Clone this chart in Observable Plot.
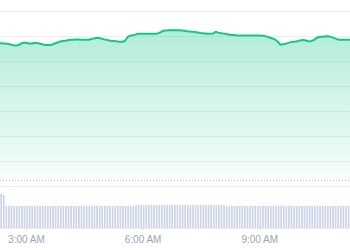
<!DOCTYPE html>
<html>
<head>
<meta charset="utf-8">
<script src="https://cdn.jsdelivr.net/npm/d3@7"></script>
<script src="https://cdn.jsdelivr.net/npm/@observablehq/plot@0.6"></script>
<style>
  html, body { margin: 0; padding: 0; background: #fff; overflow: hidden; }
  #chart svg { display: block; }
</style>
</head>
<body>
<div id="chart"></div>
<script>
// ---- data ----
const startTime = new Date(2024, 0, 15, 2, 20);
const stepMinutes = 4;
const prices = [
  2643.3, 2643.1, 2642.9, 2642.5, 2641.9, 2641.3, 2641.1, 2641.6, 2643.0, 2643.9,
  2643.5, 2643.0, 2642.9, 2643.4, 2643.6, 2643.0, 2642.2, 2641.6, 2641.4, 2641.5,
  2642.0, 2643.0, 2644.0, 2645.1, 2645.5, 2645.7, 2646.2, 2646.7, 2646.8, 2646.9,
  2647.0, 2646.8, 2646.7, 2646.7, 2646.7, 2647.4, 2648.0, 2648.4, 2648.6, 2647.8,
  2647.1, 2646.4, 2645.9, 2645.6, 2645.4, 2645.1, 2644.8, 2644.7, 2645.5, 2649.3,
  2650.8, 2651.2, 2651.9, 2652.7, 2652.7, 2652.7, 2652.7, 2652.7, 2652.7, 2652.7,
  2652.7, 2653.3, 2654.6, 2656.0, 2656.1, 2656.2, 2656.3, 2656.3, 2656.3, 2656.2,
  2656.0, 2655.7, 2655.3, 2655.0, 2654.7, 2654.4, 2654.0, 2653.6, 2653.3, 2653.0,
  2652.7, 2652.7, 2653.0, 2654.7, 2653.9, 2653.2, 2652.9, 2652.6, 2652.1, 2651.6,
  2651.4, 2651.1, 2651.0, 2651.0, 2651.0, 2651.0, 2651.0, 2651.0, 2651.0, 2651.0,
  2650.9, 2650.8, 2650.4, 2649.6, 2648.8, 2648.0, 2646.8, 2644.8, 2641.7, 2642.2,
  2642.8, 2643.6, 2644.4, 2644.7, 2645.1, 2645.6, 2646.2, 2646.6, 2645.7, 2645.1,
  2645.6, 2646.6, 2648.7, 2649.5, 2649.8, 2650.1, 2650.2, 2649.9, 2649.1, 2648.1,
  2647.1, 2646.7, 2646.7, 2646.7, 2646.7, 2646.7
];
const volumes = [
  3.4, 3.3, 2.2, 2.2, 2.2, 2.2, 2.2, 2.2, 2.2, 2.2,
  2.2, 2.2, 2.2, 2.2, 2.2, 2.2, 2.2, 2.2, 2.2, 2.2,
  2.2, 2.2, 2.2, 2.2, 2.2, 2.2, 2.2, 2.2, 2.2, 2.2,
  2.2, 2.2, 2.2, 2.2, 2.2, 2.2, 2.2, 2.2, 2.2, 2.2,
  2.2, 2.2, 2.2, 2.2, 2.2, 2.2, 2.2, 2.2, 2.2, 2.2,
  2.2, 2.2, 2.3, 2.3, 2.3, 2.3, 2.3, 2.3, 2.3, 2.3,
  2.3, 2.3, 2.3, 2.3, 2.3, 2.3, 2.3, 2.3, 2.3, 2.3,
  2.3, 2.3, 2.3, 2.3, 2.3, 2.3, 2.3, 2.3, 2.3, 2.3,
  2.3, 2.3, 2.3, 2.3, 2.3, 2.3, 2.3, 2.2, 2.2, 2.2,
  2.2, 2.2, 2.2, 2.2, 2.2, 2.2, 2.2, 2.2, 2.2, 2.2,
  2.2, 2.2, 2.2, 2.2, 2.2, 2.2, 2.2, 2.2, 2.2, 2.2,
  2.2, 2.2, 2.2, 2.2, 2.2, 2.2, 2.2, 2.2, 2.2, 2.2,
  2.2, 2.2, 2.2, 2.2, 2.2, 2.2, 2.2, 2.2, 2.2, 2.2,
  2.2, 2.2, 2.2, 2.2, 2.2, 2.2
];
const gridTicks = [2500, 2525, 2550, 2575, 2600, 2625, 2650, 2675];
const areaBaseline = 2506;
const volumeMax = 3.4;
const tickHours = [3, 6, 9];

// ---- build table ----
const MIN = 60 * 1000;
const rows = prices.map((p, i) => ({
  t: new Date(startTime.getTime() + i * stepMinutes * MIN),
  t2: new Date(startTime.getTime() + (i + 1) * stepMinutes * MIN),
  price: p,
  volume: volumes[i]
}));
const endTime = rows[rows.length - 1].t;
const xDomain = [startTime, endTime];
const tickValues = tickHours.map(h => new Date(2024, 0, 15, h, 0));
const fmt = d3.timeFormat("%-I:%M %p");

const green = "#16c784";

const priceChart = Plot.plot({
  width: 350,
  height: 190,
  marginTop: 11,
  marginBottom: 4,
  marginLeft: 0,
  marginRight: 0,
  x: { type: "time", domain: xDomain, axis: null },
  y: { domain: [gridTicks[0], gridTicks[gridTicks.length - 1]], axis: null },
  marks: [
    Plot.gridY(gridTicks, { stroke: "#eceef2", strokeOpacity: 1 }),
    Plot.areaY(rows, { x: "t", y1: areaBaseline, y2: "price", fill: "url(#areaGrad)", curve: "linear" }),
    Plot.ruleY([areaBaseline], { stroke: "#b9bcc4", strokeDasharray: "1,2", strokeWidth: 1 }),
    Plot.lineY(rows, { x: "t", y: "price", stroke: green, strokeWidth: 2, curve: "linear" })
  ]
});

// gradient defs
const ns = "http://www.w3.org/2000/svg";
const defs = document.createElementNS(ns, "defs");
defs.innerHTML = `<linearGradient id="areaGrad" x1="0" y1="0" x2="0" y2="1">
  <stop offset="0" stop-color="${green}" stop-opacity="0.33"></stop>
  <stop offset="1" stop-color="${green}" stop-opacity="0.03"></stop>
</linearGradient>`;
priceChart.insertBefore(defs, priceChart.firstChild);

const volumeChart = Plot.plot({
  width: 350,
  height: 60,
  marginTop: 4,
  marginBottom: 22,
  marginLeft: 0,
  marginRight: 0,
  style: { fontFamily: "'Liberation Sans', Arial, sans-serif", fontSize: "10px", color: "#9ea3b0" },
  x: { type: "time", domain: xDomain },
  y: { domain: [0, volumeMax], axis: null },
  marks: [
    Plot.rectY(rows, { x1: "t", x2: "t2", y: "volume", fill: "#cdd4e8", insetLeft: 0.3, insetRight: 0.6 }),
    Plot.ruleY([0], { stroke: "#e9ebef" }),
    Plot.axisX(tickValues, { tickSize: 2, tickPadding: 5, tickFormat: fmt, stroke: "#d5d8df", fill: "#9ea3b0", fontSize: 10 })
  ]
});

const c = document.getElementById("chart");
c.appendChild(priceChart);
c.appendChild(volumeChart);
</script>
</body>
</html>
